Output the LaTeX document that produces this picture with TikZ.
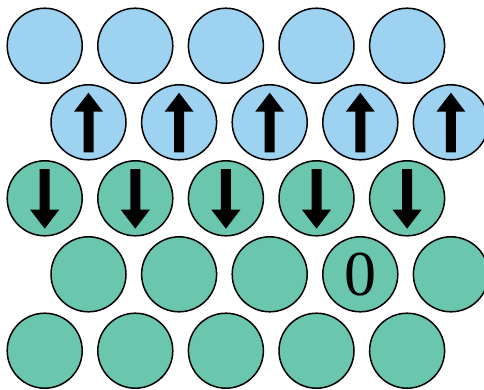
\documentclass[tikz,border=0pt]{standalone}
\usepackage{fontspec}
\setmainfont{Liberation Serif}
\usetikzlibrary{calc}
\definecolor{lblue}{RGB}{157,210,240}
\definecolor{lgreen}{RGB}{106,198,172}
\begin{document}
\begin{tikzpicture}[x=1pt,y=-1pt,
  ball/.style={circle,draw=black,line width=1.5pt,minimum size=75pt,inner sep=0pt},
  blueball/.style={ball,fill=lblue},
  greenball/.style={ball,fill=lgreen}]
\useasboundingbox (0,0) rectangle (484,389);
\clip (0,0) rectangle (484,389);
% row 1
\foreach \i in {0,...,4} {
  \node[blueball] (a\i) at ({44.7+90.6*\i},45.7) {};
}
% row 2
\foreach \i in {0,...,4} {
  \node[blueball] (b\i) at ({88.5+90.6*\i},122.3) {};
  \fill[black] ($(b\i)+(0,-29.6)$) -- ++(14.5,19) -- ++(-9.5,0) -- ++(0,40.6) -- ++(-10,0) -- ++(0,-40.6) -- ++(-9.5,0) -- cycle;
}
% row 3
\foreach \i in {0,...,4} {
  \node[greenball] (c\i) at ({44.7+90.6*\i},198.3) {};
  \fill[black] ($(c\i)+(0,30.4)$) -- ++(14.5,-19) -- ++(-9.5,0) -- ++(0,-40.6) -- ++(-10,0) -- ++(0,40.6) -- ++(-9.5,0) -- cycle;
}
% row 4
\foreach \i in {0,...,4} {
  \node[greenball] (d\i) at ({88.5+90.6*\i},274.3) {};
}
\node[font=\fontsize{64}{64}\selectfont,inner sep=0pt] (zero) at (d3) {0};
% row 5
\foreach \i in {0,...,4} {
  \node[greenball] (e\i) at ({44.7+90.6*\i},350.7) {};
}
\end{tikzpicture}
\end{document}
